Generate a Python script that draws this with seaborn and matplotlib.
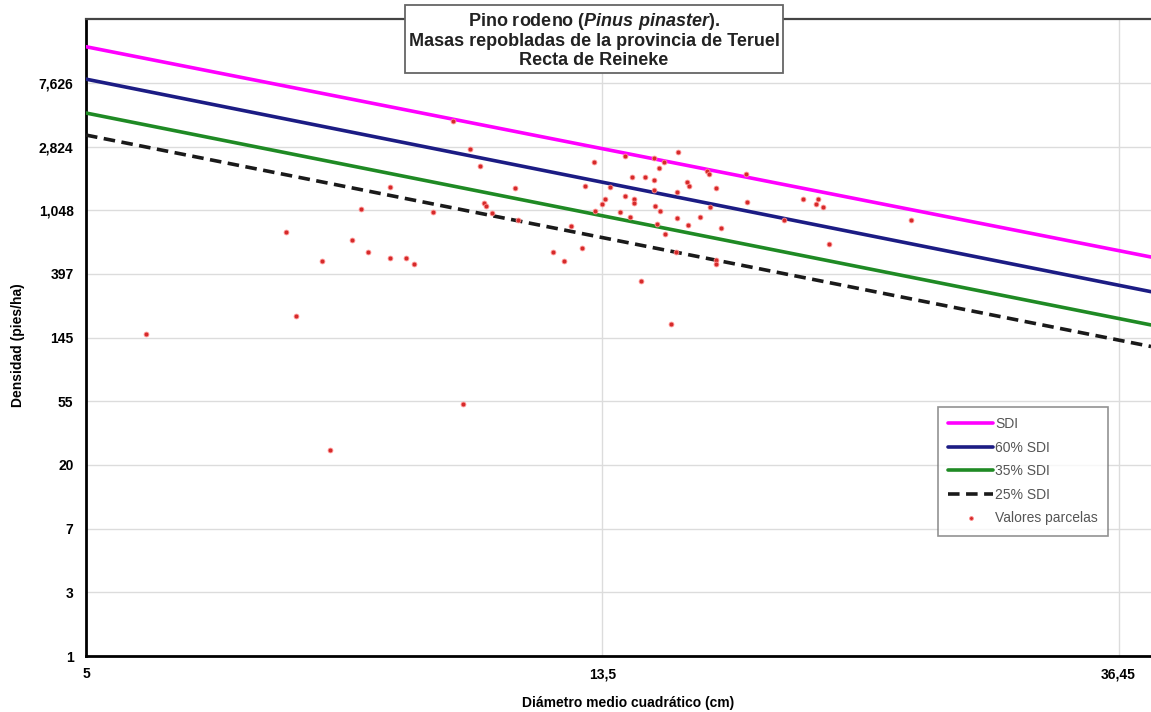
import numpy as np
import pandas as pd
import matplotlib
matplotlib.use("Agg")
import matplotlib.pyplot as plt
from matplotlib.ticker import NullLocator, FixedLocator, FixedFormatter
import seaborn as sns

# ---- data ----
diametro = [5.61, 7.35, 7.49, 7.88, 8.00, 8.34, 8.49, 8.60, 8.98, 8.98, 9.26, 9.40, 9.75,
            10.13, 10.33, 10.47, 10.67, 10.75, 10.79, 10.92, 11.42, 11.47, 12.29, 12.53,
            12.71, 12.98, 13.07, 13.28, 13.32, 13.49, 13.58, 13.71, 13.98, 14.11, 14.10,
            14.29, 14.34, 14.36, 14.25, 14.67, 14.90, 14.90, 15.05, 15.19, 15.61, 14.91,
            14.94, 15.09, 14.99, 15.24, 15.59, 15.89, 15.94, 15.60, 15.91, 16.28, 16.52,
            16.57, 16.81, 16.62, 16.95, 15.55, 16.80, 16.80, 17.81, 17.85, 19.16, 14.55,
            15.42, 19.87, 20.45, 20.38, 20.65, 24.47, 20.90]
densidad = [152, 746, 201, 474, 25, 658, 1068, 546, 1494, 500, 501, 453, 1019,
            4248, 51, 2723, 2089, 1173, 1119, 1011, 1489, 900, 550, 474,
            819, 578, 1529, 2234, 1040, 1155, 1248, 1494, 1024, 2441, 1314,
            1759, 1248, 1182, 947, 1773, 1687, 2355, 2034, 2223, 2586, 1436,
            1128, 1043, 849, 720, 1399, 1640, 1524, 924, 829, 943, 1947,
            1852, 1489, 1097, 794, 549, 482, 453, 1835, 1187, 900, 349,
            177, 1248, 1248, 1155, 1097, 900, 619]

recta_x = [5.0, 38.8]
sdi_100 = [13430, 505]
sdi_60 = [8100, 294]
sdi_35 = [4775, 175]
sdi_25 = [3385, 125]

x_ticks = [5, 13.5, 36.45]
x_tick_labels = ["5", "13,5", "36,45"]
y_tick_labels = ["1", "3", "7", "20", "55", "145", "397", "1,048", "2,824", "7,626"]
y_top_tick = 7626

# ---- style ----
sns.set_theme(style="white")
plt.rcParams["font.family"] = ["Liberation Sans", "DejaVu Sans"]
plt.rcParams["mathtext.fontset"] = "custom"
plt.rcParams["mathtext.it"] = "Liberation Sans:italic:bold"
plt.rcParams["mathtext.rm"] = "Liberation Sans:bold"
plt.rcParams["mathtext.bf"] = "Liberation Sans:bold"

fig = plt.figure(figsize=(11.51, 7.12), dpi=100)
ax = fig.add_axes([86 / 1151, 56 / 712, (1151 - 86) / 1151, (656 - 19) / 712])
ax.set_xscale("log")
ax.set_yscale("log")

specs = [(sdi_100, "SDI", "#ff00ff", "-"),
         (sdi_60, "60% SDI", "#1c1c84", "-"),
         (sdi_35, "35% SDI", "#1f8a24", "-"),
         (sdi_25, "25% SDI", "#1a1a1a", "--")]
for vals, lab, col, ls in specs:
    sns.lineplot(x=recta_x, y=vals, color=col, lw=2.6, label=lab, ax=ax, zorder=3)
    ln = ax.lines[-1]
    if ls == "--":
        ln.set_dashes((3.2, 1.8))

sns.scatterplot(x=diametro, y=densidad, color="#d42a2a", s=12, edgecolor="#ff9090",
                linewidth=0.6, label="Valores parcelas", ax=ax, zorder=4)

ax.set_xlim(5, 38.8)
ymax = np.exp(np.log(y_top_tick) * 637 / 573)
ax.set_ylim(1, ymax)

ax.xaxis.set_major_locator(FixedLocator(x_ticks))
ax.xaxis.set_major_formatter(FixedFormatter(x_tick_labels))
ax.xaxis.set_minor_locator(NullLocator())
y_pos = np.geomspace(1, y_top_tick, len(y_tick_labels))
ax.yaxis.set_major_locator(FixedLocator(y_pos))
ax.yaxis.set_major_formatter(FixedFormatter(y_tick_labels))
ax.yaxis.set_minor_locator(NullLocator())

ax.grid(True, which="major", color="#dcdcdc", lw=1.0)
ax.set_axisbelow(True)
ax.tick_params(axis="y", which="major", direction="out", length=3, width=1.5,
               color="black", labelsize=10, pad=6)
ax.tick_params(axis="x", which="major", direction="out", length=3, width=1.5,
               color="black", labelsize=10, pad=5)
for lab in ax.get_xticklabels() + ax.get_yticklabels():
    lab.set_fontweight("bold")
    lab.set_color("black")

for s in ["left", "bottom"]:
    ax.spines[s].set_color("black")
    ax.spines[s].set_linewidth(2.0)
ax.spines["top"].set_color("#444444")
ax.spines["top"].set_linewidth(1.6)
ax.spines["right"].set_visible(False)

ax.set_xlabel("Diámetro medio cuadrático (cm)", fontsize=10, fontweight="bold",
              color="black")
ax.xaxis.set_label_coords((628 - 86) / 1065, (656 - 703) / 637)
ax.xaxis.label.set_va("center")
ax.set_ylabel("Densidad (pies/ha)", fontsize=10, fontweight="bold", color="black")
ax.yaxis.set_label_coords((18 - 86) / 1065, (656 - 345) / 637)
ax.yaxis.label.set_va("center")

leg = ax.legend(loc="upper left", bbox_to_anchor=(0.800, 0.391), borderaxespad=0,
                fontsize=10, frameon=True, fancybox=False, edgecolor="#777777",
                handlelength=3.2, handletextpad=0.15, labelspacing=0.68,
                borderpad=0.75, markerscale=0.8)
leg.get_frame().set_linewidth(1.2)
for t in leg.get_texts():
    t.set_color("#555555")

fig.text(594 / 1151, 1 - 40 / 712,
         "Pino rodeno ($\\mathit{Pinus\\ pinaster}$).\n"
         "Masas repobladas de la provincia de Teruel\nRecta de Reineke",
         ha="center", va="center", fontsize=13, fontweight="bold", color="#222222",
         linespacing=1.15,
         bbox=dict(boxstyle="square,pad=0.18", fc="white", ec="#666666", lw=1.3),
         zorder=10)

fig.savefig("out.png", dpi=100)
